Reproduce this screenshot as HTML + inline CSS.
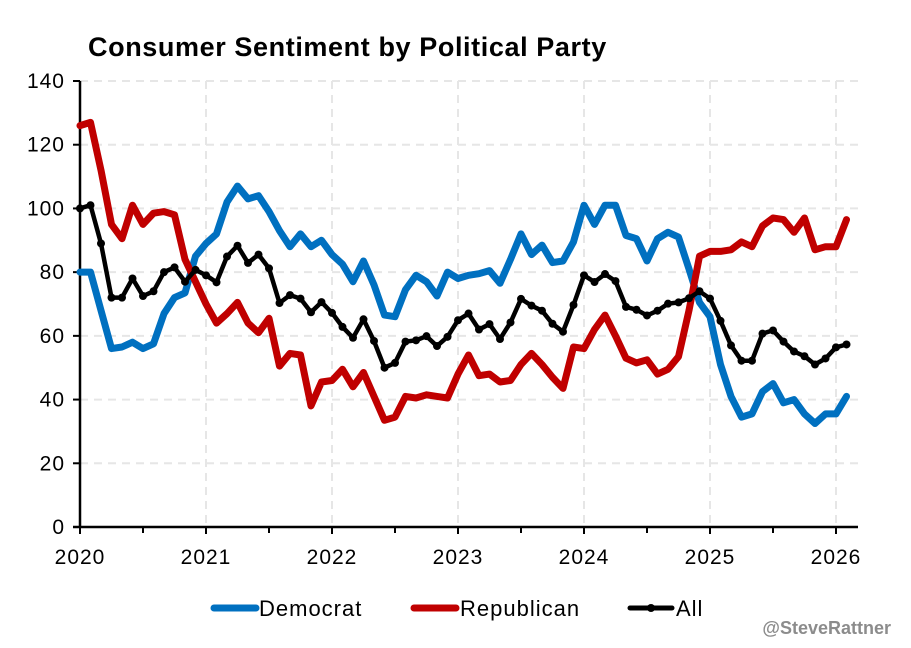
<!DOCTYPE html>
<html><head><meta charset="utf-8"><style>
body{margin:0;background:#fff;}
svg text{font-family:"Liberation Sans",sans-serif;}
</style></head><body>
<svg id="chart" width="911" height="643" xmlns="http://www.w3.org/2000/svg">
<text x="88" y="56" font-size="27" font-weight="bold" fill="#000" letter-spacing="0.6">Consumer Sentiment by Political Party</text>
<g id="grid"></g><g id="axes"></g><g id="lines"></g>
<g>
<g><line x1="214" y1="608" x2="256" y2="608" stroke="#0070C0" stroke-width="7" stroke-linecap="round"/><text x="259" y="616" font-size="22" letter-spacing="1">Democrat</text></g>
<g><line x1="414" y1="608" x2="456" y2="608" stroke="#C00000" stroke-width="7" stroke-linecap="round"/><text x="460" y="616" font-size="22" letter-spacing="1">Republican</text></g>
<g><line x1="630" y1="608" x2="672" y2="608" stroke="#000" stroke-width="5" stroke-linecap="round"/><circle cx="651" cy="608" r="4"/><text x="676" y="616" font-size="22" letter-spacing="1">All</text></g>
</g>
<text x="891" y="634" font-size="18" font-weight="bold" fill="#8c8c8c" text-anchor="end">@SteveRattner</text>
</svg>
<script>
const yearLabels=["2020","2021","2022","2023","2024","2025","2026"];
const yTicks=[0,20,40,60,80,100,120,140];
const democrat=[80,80,68,56,56.5,58,56,57.5,67,72,73.5,85,
89,92,102,107,103,104,99,93,88,92,88,90,
85.5,82.5,77,83.5,76,66.5,66,74.5,79,77,72.5,80,
78,79,79.5,80.5,76.5,84,92,85.5,88.5,83,83.5,89.5,
101,95,101,101,91.5,90.5,83.5,90.5,92.5,91,81,70.5,
66,51,41,34.5,35.5,42.5,45,39,40,35.5,32.5,35.5,
35.5,41];
const republican=[126,127,112,95,90.5,101,95,98.5,99,98,84,77,
70,64,67,70.5,64,61,65.5,50.5,54.5,54,38,45.5,
46,49.5,44,48.5,41,33.5,34.5,41,40.5,41.5,41,40.5,
48,54,47.5,48,45.5,46,51,54.5,51,47,43.5,56.5,
56,62,66.5,60,53,51.5,52.5,48,49.5,53.5,68,85,
86.5,86.5,87,89.5,88,94.5,97,96.5,92.5,97,87,88,
88,96.5];
const allSeries=[100,101,89,72,72,78,72.5,74,80,81.5,77,80.7,
79,76.8,84.9,88.3,82.9,85.5,81.2,70.3,72.8,71.7,67.4,70.6,
67.2,62.8,59.4,65.2,58.4,50,51.5,58.2,58.6,59.9,56.8,59.7,
64.9,67,62,63.7,59,64.2,71.6,69.5,67.9,63.8,61.3,69.7,
79,76.9,79.4,77.2,69.1,68.2,66.4,67.9,70.1,70.5,71.8,74,
71.7,64.7,57,52.2,52.2,60.7,61.7,58.2,55.1,53.6,51,52.9,
56.4,57.3];
const NS="http://www.w3.org/2000/svg";
const X0=80,YR=126,Y0=527,YMAX=81;
const xm=i=>X0+i*YR/12;
const yv=v=>Y0-(v/140)*(Y0-YMAX);
function mk(tag,attrs,parent){const e=document.createElementNS(NS,tag);for(const k in attrs)e.setAttribute(k,attrs[k]);parent.appendChild(e);return e;}
const grid=document.getElementById('grid'),axes=document.getElementById('axes'),lines=document.getElementById('lines');
yTicks.forEach(v=>{
 if(v>0){const g=mk('line',{x1:X0,x2:858,y1:yv(v),y2:yv(v),stroke:'#e6e6e6','stroke-width':2,'stroke-dasharray':'8,6'},grid);
 
 }
 mk('line',{x1:73,x2:80,y1:yv(v),y2:yv(v),stroke:'#000','stroke-width':2},axes);
 const l=mk('text',{x:65,y:yv(v)+7,'font-size':21,'text-anchor':'end','letter-spacing':1},axes);l.textContent=v;
 
 
});
yearLabels.forEach((lab,i)=>{
 const x=X0+i*YR;
 if(i>0){const g=mk('line',{x1:x,x2:x,y1:YMAX,y2:Y0,stroke:'#e6e6e6','stroke-width':2,'stroke-dasharray':'8,6'},grid);
 
 }
 mk('line',{x1:x,x2:x,y1:Y0,y2:534,stroke:'#000','stroke-width':2},axes);
 if(i<yearLabels.length-1)mk('line',{x1:x+YR/2,x2:x+YR/2,y1:Y0,y2:533,stroke:'#000','stroke-width':2},axes);
 const l=mk('text',{x:x,y:564,'font-size':21,'text-anchor':'middle','letter-spacing':1},axes);l.textContent=lab;
 
 
});
mk('line',{x1:X0,x2:X0,y1:YMAX,y2:Y0+1,stroke:'#000','stroke-width':2.5},axes);
mk('line',{x1:73,x2:858,y1:Y0,y2:Y0,stroke:'#000','stroke-width':2.5},axes);
function pts(a){return a.map((v,i)=>xm(i).toFixed(1)+','+yv(v).toFixed(1)).join(' ');}
const d=mk('polyline',{points:pts(democrat),fill:'none',stroke:'#0070C0','stroke-width':7,'stroke-linejoin':'round','stroke-linecap':'round'},lines);


const r=mk('polyline',{points:pts(republican),fill:'none',stroke:'#C00000','stroke-width':7,'stroke-linejoin':'round','stroke-linecap':'round'},lines);


const a=mk('polyline',{points:pts(allSeries),fill:'none',stroke:'#000','stroke-width':4.5,'stroke-linejoin':'round'},lines);


allSeries.forEach((v,i)=>{const c=mk('circle',{cx:xm(i),cy:yv(v),r:4,fill:'#000'},lines);

});
</script>
</body></html>
